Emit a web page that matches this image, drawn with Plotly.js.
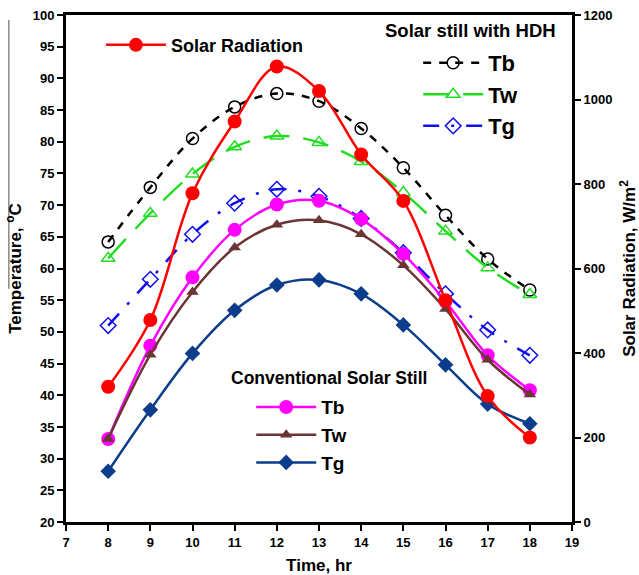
<!DOCTYPE html>
<html>
<head>
<meta charset="utf-8">
<script src="https://cdn.plot.ly/plotly-3.0.1.min.js"></script>
<style>html,body{margin:0;padding:0;background:#fff;}#chart{width:639px;height:575px;}</style>
</head>
<body>
<div id="chart"></div>
<script>
// Time of day (hr)
const hours = [8, 9, 10, 11, 12, 13, 14, 15, 16, 17, 18];

// Solar radiation, W/m2 (right axis)
const solarRadiation = [320, 478, 778, 948, 1078, 1020, 870, 760, 525, 298, 200];

// Solar still with HDH, temperatures (degC)
const hdhTb = [64.2, 72.8, 80.5, 85.5, 87.6, 86.4, 82.1, 75.9, 68.4, 61.5, 56.6];
const hdhTw = [61.6, 68.7, 74.9, 79.2, 80.9, 79.9, 76.9, 72.0, 65.9, 60.1, 55.9];
const hdhTg = [51.0, 58.3, 65.4, 70.3, 72.5, 71.4, 67.9, 62.5, 56.0, 50.3, 46.3];

// Conventional solar still, temperatures (degC)
const convTb = [33.1, 47.8, 58.6, 66.1, 70.1, 70.7, 67.8, 62.3, 54.8, 46.3, 40.8];
const convTw = [33.1, 46.4, 56.3, 63.3, 66.9, 67.6, 65.4, 60.5, 53.6, 45.6, 40.1];
const convTg = [28.0, 37.7, 46.6, 53.4, 57.4, 58.2, 56.0, 51.1, 44.8, 38.6, 35.5];

const seriesNames = ['Tb', 'Tw', 'Tg'];
const groupTitles = ['Solar still with HDH', 'Conventional Solar Still'];

const FONT = 'Liberation Sans, Arial, sans-serif';

const traces = [
  {
    x: hours, y: hdhTb, name: seriesNames[0], legend: 'legend2',
    mode: 'lines+markers', line: {color: '#000000', width: 2.5, dash: '8px,8px', shape: 'spline'},
    marker: {symbol: 'circle-open', size: 12, color: '#000000', line: {width: 1.5}}
  },
  {
    x: hours, y: hdhTw, name: seriesNames[1], legend: 'legend2',
    mode: 'lines+markers', line: {color: '#22dd22', width: 2.5, dash: '26px,14px', shape: 'spline'},
    marker: {symbol: 'triangle-up-open', size: 12, color: '#22dd22', line: {width: 1.5}}
  },
  {
    x: hours, y: hdhTg, name: seriesNames[2], legend: 'legend2',
    mode: 'lines+markers', line: {color: '#1010ee', width: 2.5, dash: '16px,12px,3px,12px', shape: 'spline'},
    marker: {symbol: 'diamond-open', size: 12, color: '#1010ee', line: {width: 1.5}}
  },
  {
    x: hours, y: convTb, name: seriesNames[0], legend: 'legend3',
    mode: 'lines+markers', line: {color: '#ff00ff', width: 2.5, shape: 'spline'},
    marker: {symbol: 'circle', size: 14, color: '#ff00ff'}
  },
  {
    x: hours, y: convTw, name: seriesNames[1], legend: 'legend3',
    mode: 'lines+markers', line: {color: '#6b3535', width: 2.5, shape: 'spline'},
    marker: {symbol: 'triangle-up', size: 11, color: '#6b3535'}
  },
  {
    x: hours, y: convTg, name: seriesNames[2], legend: 'legend3',
    mode: 'lines+markers', line: {color: '#0c3c8c', width: 2.5, shape: 'spline'},
    marker: {symbol: 'diamond', size: 12, color: '#0c3c8c'}
  },
  {
    x: hours, y: solarRadiation, name: 'Solar Radiation', legend: 'legend', yaxis: 'y2',
    mode: 'lines+markers', line: {color: '#ff0000', width: 2.5, shape: 'spline'},
    marker: {symbol: 'circle', size: 14, color: '#ff0000'}
  }
];

const axisCommon = {
  showgrid: false, zeroline: false, showline: true, linecolor: '#000', linewidth: 3,
  ticks: 'outside', ticklen: 6, tickwidth: 2, tickcolor: '#000',
  tickfont: {family: FONT, size: 13, color: '#000', weight: 'bold'}
};

const legendCommon = {
  xanchor: 'left', yanchor: 'top', bgcolor: 'rgba(0,0,0,0)', borderwidth: 0, itemwidth: 60
};

const layout = {
  width: 639, height: 575,
  margin: {l: 66, r: 67, t: 15, b: 53},
  paper_bgcolor: '#fff', plot_bgcolor: '#fff',
  font: {family: FONT, color: '#000'},
  xaxis: Object.assign({}, axisCommon, {
    range: [7, 19], dtick: 1, tick0: 7, mirror: true,
    title: {text: 'Time, hr', font: {family: FONT, size: 17, weight: 'bold'}, standoff: 12}
  }),
  yaxis: Object.assign({}, axisCommon, {
    range: [20, 100], dtick: 5, tick0: 20,
    title: {text: 'Temperature, <sup>o</sup>C', font: {family: FONT, size: 17, weight: 'bold'}, standoff: 7}
  }),
  yaxis2: Object.assign({}, axisCommon, {
    range: [0, 1200], dtick: 200, tick0: 0, overlaying: 'y', side: 'right',
    title: {text: 'Solar Radiation, W/m<sup>2</sup>', font: {family: FONT, size: 17, weight: 'bold'}, standoff: 16}
  }),
  legend: Object.assign({}, legendCommon, {
    x: 0.069, y: 0.977,
    font: {family: FONT, size: 18, weight: 'bold'}
  }),
  legend2: Object.assign({}, legendCommon, {
    x: 0.696, y: 0.947,
    font: {family: FONT, size: 22, weight: 'bold'}
  }),
  legend3: Object.assign({}, legendCommon, {
    x: 0.366, y: 0.264,
    font: {family: FONT, size: 19, weight: 'bold'}
  }),
  annotations: [
    {text: groupTitles[0], xref: 'paper', yref: 'paper', x: 0.6265, y: 0.970, xanchor: 'left', yanchor: 'middle',
     showarrow: false, font: {family: FONT, size: 18.5, weight: 'bold', color: '#000'}},
    {text: groupTitles[1], xref: 'paper', yref: 'paper', x: 0.322, y: 0.284, xanchor: 'left', yanchor: 'middle',
     showarrow: false, font: {family: FONT, size: 17.5, weight: 'bold', color: '#000'}}
  ],
  shapes: [
    {type: 'line', xref: 'paper', yref: 'paper', x0: -0.113, x1: -0.113, y0: 0.46, y1: 0.99, line: {color: '#888', width: 1.5}}
  ],
  showlegend: true
};

Plotly.newPlot('chart', traces, layout, {displayModeBar: false, staticPlot: true});
</script>
</body>
</html>
